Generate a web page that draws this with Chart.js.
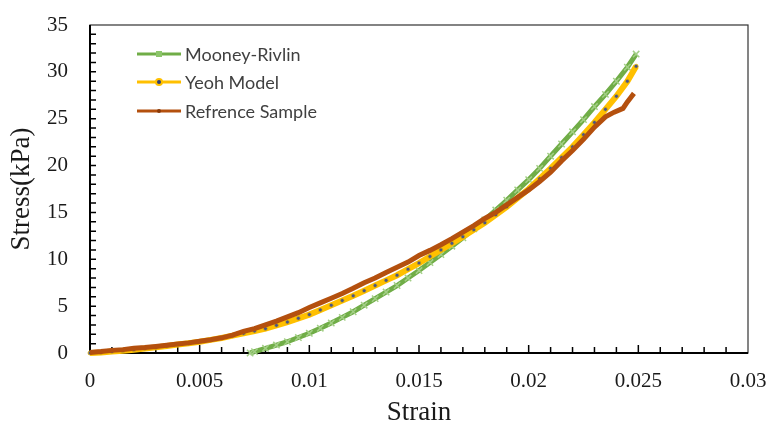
<!DOCTYPE html>
<html>
<head>
<meta charset="utf-8">
<script src="https://cdn.jsdelivr.net/npm/chart.js@4.4.1/dist/chart.umd.min.js"></script>
<style>
  html, body { margin: 0; padding: 0; background: #fff; }
  #wrap { width: 770px; height: 426px; }
</style>
</head>
<body>
<div id="wrap"><canvas id="stressChart" width="770" height="426"></canvas></div>
<script>
// Mooney-Rivlin fit
const mrStrain = [0.0073, 0.0075, 0.008, 0.0085, 0.009, 0.0095, 0.010, 0.0105, 0.011, 0.0115, 0.012, 0.0125,
  0.013, 0.0135, 0.014, 0.0145, 0.015, 0.0155, 0.016, 0.0165, 0.017, 0.0175, 0.018, 0.0185, 0.019, 0.0195,
  0.020, 0.0205, 0.021, 0.0215, 0.022, 0.0225, 0.023, 0.0235, 0.024, 0.0245, 0.0249];
const mrStress = [0, 0.15, 0.5, 0.85, 1.2, 1.65, 2.1, 2.65, 3.2, 3.8, 4.4, 5.1,
  5.8, 6.5, 7.2, 8.0, 8.8, 9.65, 10.5, 11.4, 12.3, 13.25, 14.2, 15.25, 16.3, 17.4,
  18.5, 19.7, 21.0, 22.3, 23.6, 24.9, 26.3, 27.6, 29.0, 30.5, 31.9];

// Yeoh fit
const yeohStrain = [0, 0.0005, 0.001, 0.0015, 0.002, 0.0025, 0.003, 0.0035, 0.004, 0.0045, 0.005, 0.0055,
  0.006, 0.0065, 0.007, 0.0075, 0.008, 0.0085, 0.009, 0.0095, 0.010, 0.0105, 0.011, 0.0115, 0.012, 0.0125,
  0.013, 0.0135, 0.014, 0.0145, 0.015, 0.0155, 0.016, 0.0165, 0.017, 0.0175, 0.018, 0.0185, 0.019, 0.0195,
  0.020, 0.0205, 0.021, 0.0215, 0.022, 0.0225, 0.023, 0.0235, 0.024, 0.0245, 0.0249];
const yeohStress = [0, 0.05, 0.15, 0.25, 0.35, 0.48, 0.6, 0.75, 0.9, 1.05, 1.2, 1.4,
  1.6, 1.85, 2.1, 2.35, 2.6, 2.95, 3.3, 3.7, 4.1, 4.6, 5.1, 5.6, 6.1, 6.65,
  7.2, 7.75, 8.3, 8.95, 9.6, 10.3, 11.0, 11.7, 12.4, 13.15, 13.9, 14.75, 15.6, 16.55,
  17.5, 18.6, 19.7, 20.85, 22.0, 23.3, 24.6, 26.0, 27.4, 29.0, 30.6];

// measured sample
const refStrain = [0, 0.0005, 0.001, 0.0015, 0.002, 0.0025, 0.003, 0.0035, 0.004, 0.0045, 0.005, 0.0055,
  0.006, 0.0065, 0.007, 0.0075, 0.008, 0.0085, 0.009, 0.0095, 0.010, 0.0105, 0.011, 0.0115, 0.012, 0.0125,
  0.013, 0.0135, 0.014, 0.0145, 0.015, 0.0155, 0.016, 0.0165, 0.017, 0.0175, 0.018, 0.0185, 0.019, 0.0195,
  0.020, 0.0205, 0.021, 0.0215, 0.022, 0.0225, 0.023, 0.0235, 0.0239, 0.0243, 0.0245, 0.0247, 0.0248];
const refStress = [0.05, 0.15, 0.28, 0.36, 0.5, 0.58, 0.7, 0.82, 0.95, 1.08, 1.25, 1.42,
  1.62, 1.9, 2.3, 2.6, 3.0, 3.4, 3.85, 4.3, 4.85, 5.35, 5.85, 6.35, 6.9, 7.5,
  8.0, 8.6, 9.15, 9.7, 10.4, 10.95, 11.55, 12.2, 12.9, 13.6, 14.35, 15.0, 15.8, 16.6,
  17.4, 18.3, 19.3, 20.5, 21.6, 22.8, 24.1, 25.2, 25.7, 26.1, 26.8, 27.4, 27.7];

const xTickValues = [0, 0.005, 0.01, 0.015, 0.02, 0.025, 0.03];
const yTickValues = [0, 5, 10, 15, 20, 25, 30, 35];
const seriesNames = ["Mooney-Rivlin", "Yeoh Model", "Refrence Sample"];

function toPoints(xs, ys) {
  return xs.map((x, i) => ({ x: x, y: ys[i] }));
}

// box, inward ticks and legend drawn the way Excel does it
const excelFrame = {
  id: "excelFrame",
  beforeDatasetsDraw(chart) {
    const ctx = chart.ctx;
    const a = chart.chartArea;
    const xs = chart.scales.x, ys = chart.scales.y;
    ctx.save();
    ctx.strokeStyle = "#333";
    ctx.lineWidth = 1.2;
    ctx.strokeRect(a.left, a.top, a.right - a.left, a.bottom - a.top);
    ctx.strokeStyle = "#000";
    ctx.lineWidth = 2;
    ctx.beginPath();
    ctx.moveTo(a.left, a.top);
    ctx.lineTo(a.left, a.bottom);
    ctx.lineTo(a.right, a.bottom);
    ctx.stroke();
    ctx.lineWidth = 1.5;
    ctx.beginPath();
    for (let i = 1; i < 30; i++) {
      const px = xs.getPixelForValue(i * 0.001);
      const len = i % 5 === 0 ? 8 : 6;
      ctx.moveTo(px, a.bottom);
      ctx.lineTo(px, a.bottom - len);
    }
    for (let j = 1; j < 35; j++) {
      const py = ys.getPixelForValue(j);
      ctx.moveTo(a.left, py);
      ctx.lineTo(a.left + 6, py);
    }
    ctx.stroke();
    ctx.restore();
  },
  afterDraw(chart) {
    const ctx = chart.ctx;
    const rows = [54, 82, 111];
    ctx.save();
    chart.data.datasets.forEach((ds, i) => {
      const y = rows[i];
      ctx.strokeStyle = ds.borderColor;
      ctx.lineWidth = 3;
      ctx.beginPath();
      ctx.moveTo(137, y);
      ctx.lineTo(181, y);
      ctx.stroke();
      const cx = 159;
      if (i === 0) {
        ctx.fillStyle = "#8CC56A";
        ctx.fillRect(cx - 3, y - 3, 6, 6);
      } else if (i === 1) {
        ctx.fillStyle = "#FFC000";
        ctx.beginPath(); ctx.arc(cx, y, 4, 0, Math.PI * 2); ctx.fill();
        ctx.fillStyle = "#2F3F7A";
        ctx.beginPath(); ctx.arc(cx, y, 2, 0, Math.PI * 2); ctx.fill();
      } else {
        ctx.fillStyle = "#8A3A08";
        ctx.beginPath(); ctx.arc(cx, y, 2, 0, Math.PI * 2); ctx.fill();
      }
      ctx.fillStyle = "#404040";
      ctx.font = "18px Lato";
      ctx.textBaseline = "middle";
      ctx.fillText(seriesNames[i], 185, y + 1);
    });
    ctx.restore();
  }
};

const tickFont = { family: "'Liberation Serif', serif", size: 21 };
const titleFont = { family: "'Liberation Serif', serif", size: 27, lineHeight: 1.0 };

new Chart(document.getElementById("stressChart"), {
  type: "line",
  data: {
    datasets: [
      {
        label: seriesNames[0],
        data: toPoints(mrStrain, mrStress),
        borderColor: "#70AD47",
        borderWidth: 5,
        pointStyle: "crossRot",
        pointRadius: 4.5,
        pointBorderColor: "#A3CF86",
        pointBorderWidth: 1.5,
        order: 2,
        clip: 8
      },
      {
        label: seriesNames[1],
        data: toPoints(yeohStrain, yeohStress),
        borderColor: "#FFC000",
        borderWidth: 6,
        pointRadius: 2,
        pointBackgroundColor: "#4A5588",
        pointBorderColor: "#E8B400",
        pointBorderWidth: 0.8,
        order: 1,
        clip: 8
      },
      {
        label: seriesNames[2],
        data: toPoints(refStrain, refStress),
        borderColor: "#B4500E",
        borderWidth: 5,
        pointRadius: 0,
        order: 0,
        clip: 8
      }
    ]
  },
  options: {
    responsive: false,
    animation: false,
    layout: { padding: { left: 8, right: 22, top: 25, bottom: 0 } },
    plugins: { legend: { display: false }, tooltip: { enabled: false } },
    scales: {
      x: {
        type: "linear",
        min: 0, max: 0.03,
        afterBuildTicks: s => { s.ticks = xTickValues.map(v => ({ value: v })); },
        afterFit: s => { s.height = 73; s.paddingLeft = 0; s.paddingRight = 0; },
        grid: { display: false, drawTicks: false },
        border: { display: false },
        ticks: { font: tickFont, color: "#1a1a1a", padding: 16, maxRotation: 0,
          callback: v => String(+v.toFixed(3)) },
        title: { display: true, text: "Strain", font: titleFont, color: "#1a1a1a", padding: { top: 4, bottom: 0 } }
      },
      y: {
        min: 0, max: 35,
        afterBuildTicks: s => { s.ticks = yTickValues.map(v => ({ value: v })); },
        afterFit: s => { s.width = 82; s.paddingTop = 0; s.paddingBottom = 0; },
        grid: { display: false, drawTicks: false },
        border: { display: false },
        ticks: { font: tickFont, color: "#1a1a1a", padding: 22 },
        title: { display: true, text: "Stress(kPa)", font: titleFont, color: "#1a1a1a", padding: { top: 0, bottom: 12 } }
      }
    }
  },
  plugins: [excelFrame]
});
</script>
</body>
</html>
